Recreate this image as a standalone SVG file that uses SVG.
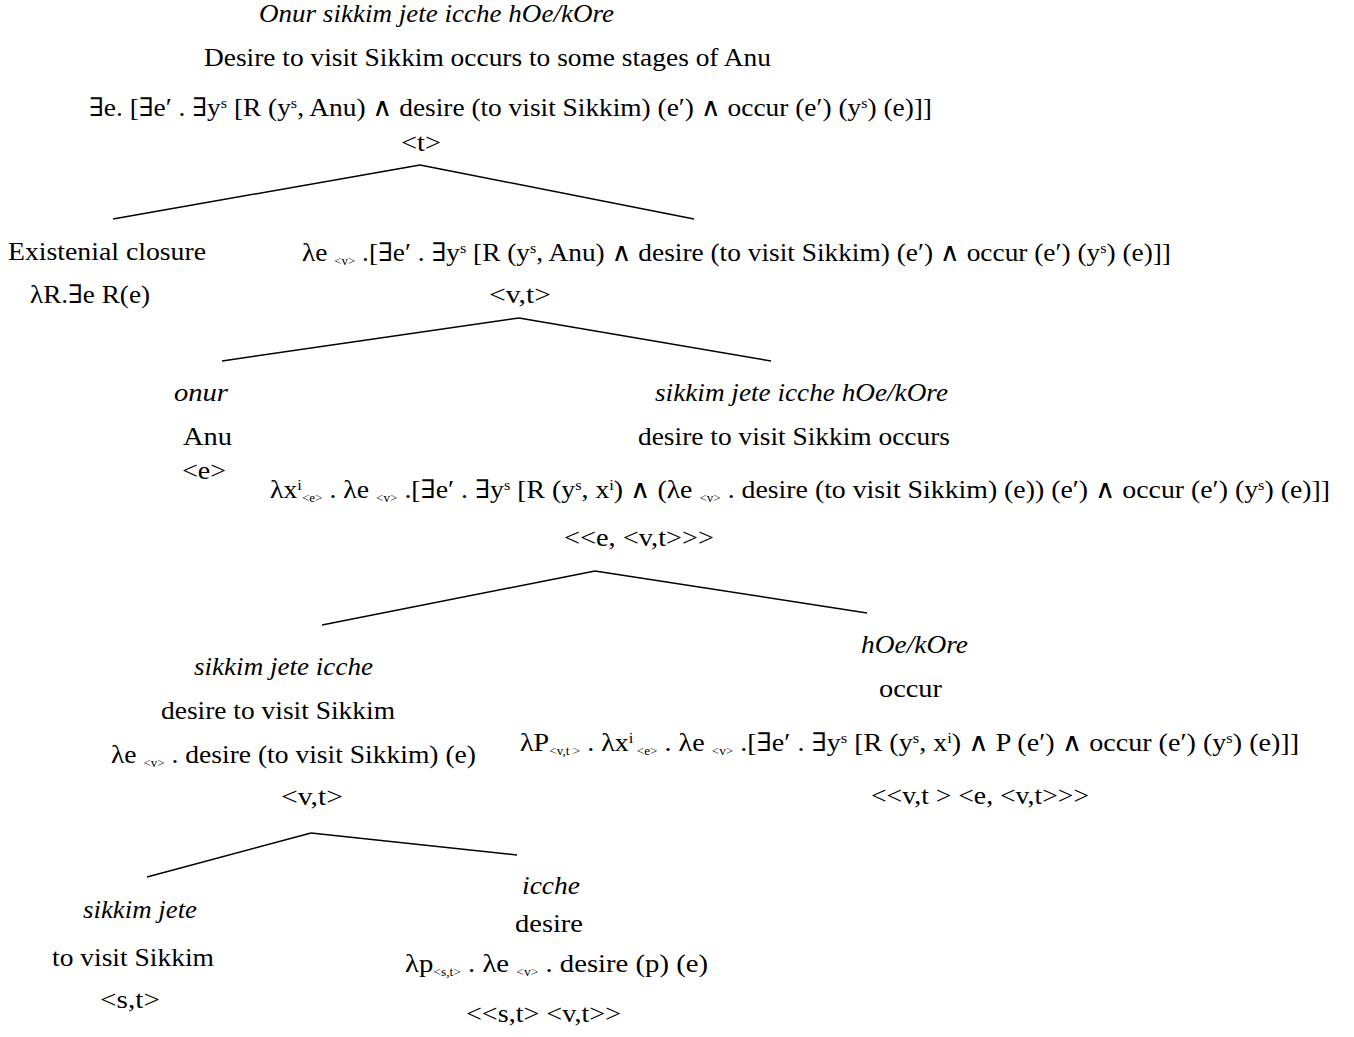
<svg xmlns="http://www.w3.org/2000/svg" width="1354" height="1037" viewBox="0 0 1354 1037">
  <style>
    text { font-family: "Liberation Serif", "DejaVu Serif", serif; font-size: 25.5px; fill: #000; }
    .it { font-style: italic; }
    .sb { font-size: 12px; }
    .sp { font-size: 15px; }
    .edge { stroke: #000; stroke-width: 1.5; fill: none; }
  </style>
  <rect width="1354" height="1037" fill="#fff"/>

  <!-- tree branches -->
  <g id="connectors">
    <line class="edge" x1="420" y1="165" x2="113" y2="219"/>
    <line class="edge" x1="420" y1="165" x2="694" y2="219"/>
    <line class="edge" x1="519" y1="318" x2="222" y2="361"/>
    <line class="edge" x1="519" y1="318" x2="771" y2="361"/>
    <line class="edge" x1="595" y1="571" x2="322" y2="625"/>
    <line class="edge" x1="595" y1="571" x2="867" y2="613"/>
    <line class="edge" x1="311" y1="833" x2="147" y2="877"/>
    <line class="edge" x1="311" y1="833" x2="517" y2="855"/>
  </g>

  <!-- root: whole sentence -->
  <g id="n-root">
    <text class="it" x="259" y="22" textLength="355" lengthAdjust="spacingAndGlyphs">Onur sikkim jete icche hOe/kOre</text>
    <text x="204" y="66" textLength="567" lengthAdjust="spacingAndGlyphs">Desire to visit Sikkim occurs to some stages of Anu</text>
    <text x="89" y="116" textLength="843" lengthAdjust="spacingAndGlyphs">∃e. [∃e′ . ∃y<tspan class="sp" dy="-8">s</tspan><tspan dy="8"> [R (y</tspan><tspan class="sp" dy="-8">s</tspan><tspan dy="8">,  Anu) ∧ desire (to visit Sikkim) (e′) ∧ occur (e′) (y</tspan><tspan class="sp" dy="-8">s</tspan><tspan dy="8">) (e)]]</tspan></text>
    <text x="401" y="151" textLength="40" lengthAdjust="spacingAndGlyphs">&lt;t&gt;</text>
  </g>

  <!-- existential closure -->
  <g id="n-closure">
    <text x="8" y="260" textLength="198" lengthAdjust="spacingAndGlyphs">Existenial closure</text>
    <text x="30" y="303" textLength="120" lengthAdjust="spacingAndGlyphs">λR.∃e R(e)</text>
  </g>

  <!-- event predicate -->
  <g id="n-vp">
    <text x="302" y="261" textLength="869" lengthAdjust="spacingAndGlyphs">λe <tspan class="sb" dy="4">&lt;v&gt;</tspan><tspan dy="-4"> .[∃e′ . ∃y</tspan><tspan class="sp" dy="-8">s</tspan><tspan dy="8"> [R (y</tspan><tspan class="sp" dy="-8">s</tspan><tspan dy="8">, Anu) ∧ desire (to visit Sikkim) (e′) ∧ occur (e′) (y</tspan><tspan class="sp" dy="-8">s</tspan><tspan dy="8">) (e)]]</tspan></text>
    <text x="489" y="303" textLength="62" lengthAdjust="spacingAndGlyphs">&lt;v,t&gt;</text>
  </g>

  <!-- subject -->
  <g id="n-onur">
    <text class="it" x="174" y="401" textLength="54" lengthAdjust="spacingAndGlyphs">onur</text>
    <text x="183" y="445" textLength="49" lengthAdjust="spacingAndGlyphs">Anu</text>
    <text x="182" y="479" textLength="44" lengthAdjust="spacingAndGlyphs">&lt;e&gt;</text>
  </g>

  <!-- predicate -->
  <g id="n-pred">
    <text class="it" x="655" y="401" textLength="293" lengthAdjust="spacingAndGlyphs">sikkim jete icche hOe/kOre</text>
    <text x="638" y="445" textLength="312" lengthAdjust="spacingAndGlyphs">desire to visit Sikkim occurs</text>
    <text x="270" y="498" textLength="1060" lengthAdjust="spacingAndGlyphs">λx<tspan class="sp" dy="-8">i</tspan><tspan class="sb" dy="12">&lt;e&gt;</tspan><tspan dy="-4"> . λe </tspan><tspan class="sb" dy="4">&lt;v&gt;</tspan><tspan dy="-4"> .[∃e′ . ∃y</tspan><tspan class="sp" dy="-8">s</tspan><tspan dy="8"> [R (y</tspan><tspan class="sp" dy="-8">s</tspan><tspan dy="8">, x</tspan><tspan class="sp" dy="-8">i</tspan><tspan dy="8">) ∧ (λe </tspan><tspan class="sb" dy="4">&lt;v&gt;</tspan><tspan dy="-4"> . desire (to visit Sikkim) (e)) (e′) ∧ occur (e′) (y</tspan><tspan class="sp" dy="-8">s</tspan><tspan dy="8">) (e)]]</tspan></text>
    <text x="564" y="546" textLength="150" lengthAdjust="spacingAndGlyphs">&lt;&lt;e, &lt;v,t&gt;&gt;&gt;</text>
  </g>

  <!-- desire to visit Sikkim -->
  <g id="n-desire">
    <text class="it" x="194" y="675" textLength="179" lengthAdjust="spacingAndGlyphs">sikkim jete icche</text>
    <text x="161" y="719" textLength="234" lengthAdjust="spacingAndGlyphs">desire to visit Sikkim</text>
    <text x="111" y="763" textLength="365" lengthAdjust="spacingAndGlyphs">λe <tspan class="sb" dy="4">&lt;v&gt;</tspan><tspan dy="-4"> . desire (to visit Sikkim) (e)</tspan></text>
    <text x="281" y="805" textLength="62" lengthAdjust="spacingAndGlyphs">&lt;v,t&gt;</text>
  </g>

  <!-- occur -->
  <g id="n-occur">
    <text class="it" x="861" y="653" textLength="107" lengthAdjust="spacingAndGlyphs">hOe/kOre</text>
    <text x="879" y="697" textLength="63" lengthAdjust="spacingAndGlyphs">occur</text>
    <text x="520" y="751" textLength="779" lengthAdjust="spacingAndGlyphs">λP<tspan class="sb" dy="4">&lt;v,t &gt;</tspan><tspan dy="-4"> . λx</tspan><tspan class="sp" dy="-8">i</tspan><tspan class="sb" dy="12"> &lt;e&gt;</tspan><tspan dy="-4"> . λe </tspan><tspan class="sb" dy="4">&lt;v&gt;</tspan><tspan dy="-4"> .[∃e′ . ∃y</tspan><tspan class="sp" dy="-8">s</tspan><tspan dy="8"> [R (y</tspan><tspan class="sp" dy="-8">s</tspan><tspan dy="8">, x</tspan><tspan class="sp" dy="-8">i</tspan><tspan dy="8">) ∧ P (e′) ∧ occur (e′) (y</tspan><tspan class="sp" dy="-8">s</tspan><tspan dy="8">) (e)]]</tspan></text>
    <text x="871" y="804" textLength="218" lengthAdjust="spacingAndGlyphs">&lt;&lt;v,t &gt; &lt;e, &lt;v,t&gt;&gt;&gt;</text>
  </g>

  <!-- icche -->
  <g id="n-icche">
    <text class="it" x="522" y="894" textLength="58" lengthAdjust="spacingAndGlyphs">icche</text>
    <text x="515" y="932" textLength="68" lengthAdjust="spacingAndGlyphs">desire</text>
    <text x="405" y="972" textLength="303" lengthAdjust="spacingAndGlyphs">λp<tspan class="sb" dy="4">&lt;s,t&gt;</tspan><tspan dy="-4"> . λe </tspan><tspan class="sb" dy="4">&lt;v&gt;</tspan><tspan dy="-4"> . desire (p) (e)</tspan></text>
    <text x="466" y="1022" textLength="155" lengthAdjust="spacingAndGlyphs">&lt;&lt;s,t&gt; &lt;v,t&gt;&gt;</text>
  </g>

  <!-- sikkim jete -->
  <g id="n-sikkim">
    <text class="it" x="83" y="918" textLength="114" lengthAdjust="spacingAndGlyphs">sikkim jete</text>
    <text x="52" y="966" textLength="162" lengthAdjust="spacingAndGlyphs">to visit Sikkim</text>
    <text x="100" y="1008" textLength="60" lengthAdjust="spacingAndGlyphs">&lt;s,t&gt;</text>
  </g>
</svg>
